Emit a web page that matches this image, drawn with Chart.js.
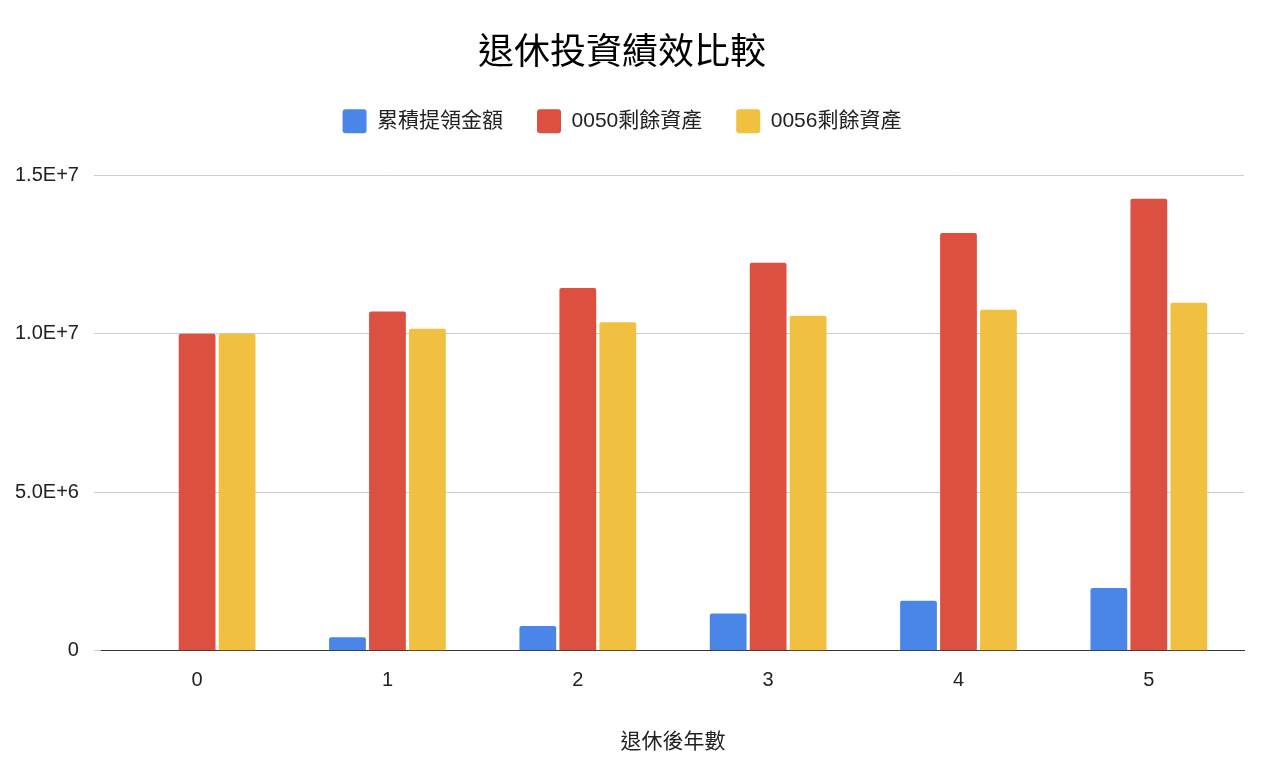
<!DOCTYPE html>
<html>
<head>
<meta charset="utf-8">
<script src="https://cdn.jsdelivr.net/npm/chart.js@4"></script>
<style>
  html, body { margin: 0; padding: 0; background: #fff; }
  #wrap { width: 1264px; height: 766px; }
</style>
</head>
<body>
<div id="wrap"><canvas id="myChart"></canvas></div>
<script>
// data
var years = ['0', '1', '2', '3', '4', '5'];
var withdrawn = [0, 430000, 780000, 1180000, 1580000, 1980000];
var left0050 = [10000000, 10700000, 11440000, 12240000, 13180000, 14260000];
var left0056 = [10000000, 10160000, 10360000, 10570000, 10760000, 10980000];
var tickLabels = { 0: '0', 5000000: '5.0E+6', 10000000: '1.0E+7', 15000000: '1.5E+7' };

var font = "Arial, 'Liberation Sans', 'Noto Sans CJK TC', sans-serif";
Chart.defaults.font.family = font;
Chart.defaults.color = '#222';

// extra space under the legend
var legendGap = {
  id: 'legendGap',
  beforeInit: function (chart) {
    var fit = chart.legend.fit;
    chart.legend.fit = function () {
      fit.bind(chart.legend)();
      this.height += 32;
    };
  }
};

var ctx = document.getElementById('myChart').getContext('2d');
var myChart = new Chart(ctx, {
  type: 'bar',
  data: {
    labels: years,
    datasets: [
      { label: '累積提領金額', data: withdrawn, backgroundColor: '#4a86e8' },
      { label: '0050剩餘資產', data: left0050, backgroundColor: '#db5040' },
      { label: '0056剩餘資產', data: left0056, backgroundColor: '#f1c040' }
    ]
  },
  plugins: [legendGap],
  options: {
    responsive: true,
    maintainAspectRatio: false,
    animation: false,
    layout: { padding: { left: 0, right: 20, top: 32, bottom: 7 } },
    datasets: { bar: { categoryPercentage: 0.63, barPercentage: 0.92, borderRadius: 2 } },
    plugins: {
      title: {
        display: true,
        text: '退休投資績效比較',
        font: { size: 36, weight: 'normal' },
        color: '#000',
        padding: { top: 0, bottom: 0 }
      },
      legend: {
        position: 'top',
        labels: {
          font: { size: 21 },
          boxWidth: 24, boxHeight: 24,
          padding: 34,
          useBorderRadius: true, borderRadius: 3
        }
      },
      tooltip: { enabled: false }
    },
    scales: {
      x: {
        grid: { display: false },
        border: { color: '#333' },
        ticks: { font: { size: 20 }, color: '#222', padding: 10 },
        title: { display: true, text: '退休後年數', font: { size: 21 }, color: '#222', padding: { top: 27 } }
      },
      y: {
        min: 0, max: 15000000,
        border: { display: false },
        grid: { color: '#ccc' },
        ticks: {
          stepSize: 5000000,
          font: { size: 20 }, color: '#222', padding: 15,
          callback: function (v) { return tickLabels[v] !== undefined ? tickLabels[v] : ''; }
        }
      }
    }
  }
});
</script>
</body>
</html>
